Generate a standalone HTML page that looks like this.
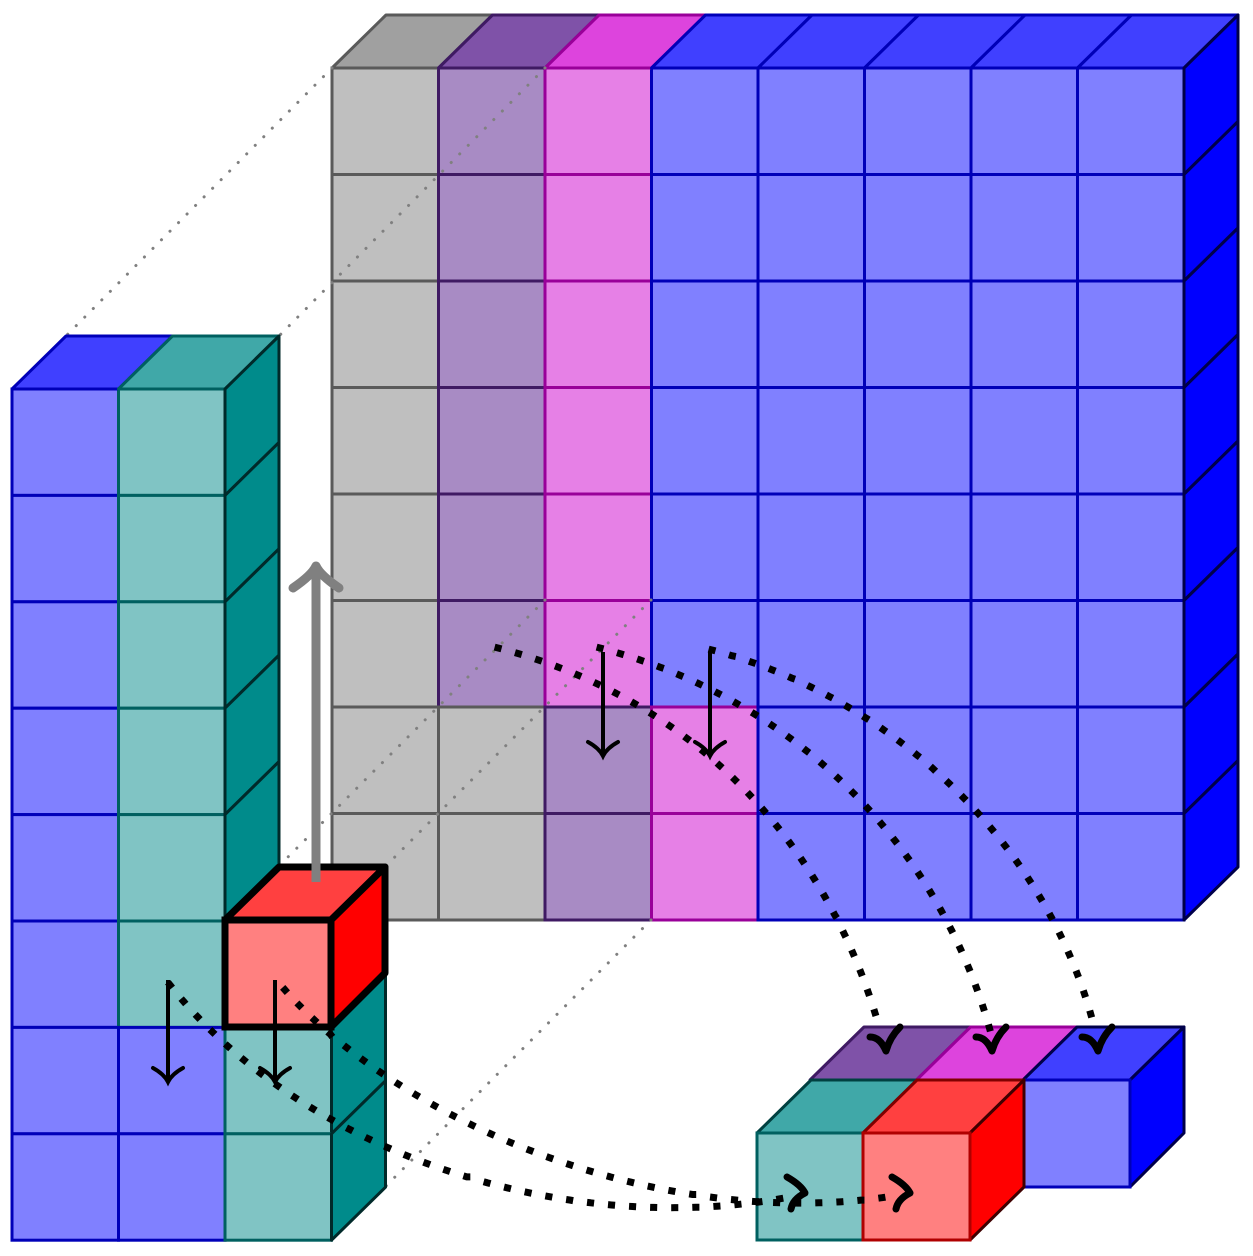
<!DOCTYPE html>
<html><head><meta charset="utf-8"><style>html,body{margin:0;padding:0;background:#fff}svg{display:block}</style></head>
<body>
<svg id="s" width="1253" height="1256" viewBox="0 0 1253 1256" xmlns="http://www.w3.org/2000/svg"></svg>
<script>
const S=document.getElementById('s');let h='';
const C={g:['#bfbfbf','#a0a0a0','#5a5a5a'],p:['#a88bc4','#7f52a8','#3f1a63'],k:['#e680e6','#dd44dd','#990099'],b:['#8080ff','#4040ff','#0000b8'],t:['#80c4c4','#40a8a8','#006060'],r:['#ff8080','#ff4040','#b00000']};
function rect(x,y,w,hh,f,s,sw){h+=`<rect x="${x}" y="${y}" width="${w}" height="${hh}" fill="${f}" stroke="${s}" stroke-width="${sw||3}"/>`;}
function poly(p,f,s,sw){h+=`<polygon points="${p}" fill="${f}" stroke="${s}" stroke-width="${sw||3}" stroke-linejoin="round"/>`;}
const s=106.5,dx=54,dy=53;
// big grid
const cols=[332,438.5,545,651.5,758,864.5,971,1077.5,1184];
function colr(r,c){const n=['g','p','k','b','b','b','b','b'];if(r>=6){return ['g','g','p','k','b','b','b','b'][c];}return n[c];}
for(let r=0;r<8;r++)for(let c=0;c<8;c++){const k=C[colr(r,c)];rect(cols[c],68+r*s,s,s,k[0],k[2]);}
for(let c=0;c<8;c++){const k=C[colr(0,c)],x=cols[c];poly(`${x},68 ${x+dx},15 ${x+dx+s},15 ${x+s},68`,k[1],k[2]);}
for(let r=0;r<8;r++){const y=68+r*s;poly(`1184,${y} 1238,${y-dy} 1238,${y-dy+s} 1184,${y+s}`,'#0000ff','#00004a');}
// gray dotted projection lines
const gd='stroke="#808080" stroke-width="3" stroke-linecap="round" stroke-dasharray="0.1 12" fill="none"';
h+=`<path d="M332,68 L66,336 M545,68 L279,336 M545,600 L225,920 M651,600 L332,920 M651,920 L385,1187" ${gd}/>`;
// left stack
const ls=106.4,ly=389;
for(let r=0;r<8;r++){rect(12,ly+r*ls,106.5,ls,C.b[0],C.b[2]);}
for(let r=0;r<8;r++){const k=r<6?C.t:C.b;rect(118.5,ly+r*ls,106.5,ls,k[0],k[2]);}
poly(`12,389 66,336 172.5,336 118.5,389`,C.b[1],C.b[2]);
poly(`118.5,389 172.5,336 279,336 225,389`,C.t[1],C.t[2]);
for(let r=0;r<6;r++){const y=ly+r*ls;poly(`225,${y} 279,${y-dy} 279,${y-dy+ls} 225,${y+ls}`,'#008b8b','#002a2a');}
for(let r=6;r<8;r++){const y=ly+r*ls;rect(225,y,106.5,ls,C.t[0],C.t[2]);poly(`331.5,${y} 385.5,${y-dy} 385.5,${y-dy+ls} 331.5,${y+ls}`,'#008b8b','#002a2a');}
// red cube
poly(`225,920 279,867 385,867 331,920`,C.r[1],'#000',7);
poly(`331,920 385,867 385,973 331,1027`,'#ff0000','#000',7);
rect(225,920,106,107,C.r[0],'#000',7);
// gray arrow
h+=`<path d="M316,882 L316,572" stroke="#808080" stroke-width="9"/><path d="M293,588 Q312,575 316,566 Q320,575 339,588" stroke="#808080" stroke-width="9" fill="none" stroke-linecap="round" stroke-linejoin="round"/>`;
// small cubes back row
poly(`810,1080 864,1027 970.5,1027 916.5,1080`,C.p[1],C.p[2]);
poly(`916.5,1080 970.5,1027 1077,1027 1023,1080`,C.k[1],C.k[2]);
poly(`1023,1080 1077,1027 1184,1027 1130,1080`,C.b[1],'#00004a');
poly(`1130,1080 1184,1027 1184,1133 1130,1187`,'#0000ff','#00004a');
rect(1023,1080,107,107,C.b[0],C.b[2]);
// front row
poly(`757,1133 811,1080 917,1080 863,1133`,C.t[1],'#004040');
rect(757,1133,106,107,C.t[0],C.t[2]);
poly(`863,1133 917,1080 1024,1080 970,1133`,C.r[1],'#800000');
poly(`970,1133 1024,1080 1024,1187 970,1240`,'#ff0000','#400000');
rect(863,1133,107,107,C.r[0],C.r[2]);
// black dotted curves
const bd='stroke="#000" stroke-width="7" stroke-dasharray="0.1 21" stroke-linecap="square" fill="none"';
h+=`<path d="M498,648 C700,700 830,850 880,1030" ${bd}/>`;
h+=`<path d="M600,648 C800,700 940,850 990,1030" ${bd}/>`;
h+=`<path d="M712,650 C900,700 1050,850 1095,1030" ${bd}/>`;
h+=`<path d="M170,985 C300,1150 560,1240 790,1197" ${bd}/>`;
h+=`<path d="M285,990 C400,1120 660,1235 900,1195" ${bd}/>`;
// down arrows
function da(x,y1,y2){h+=`<path d="M${x},${y1} L${x},${y2}" stroke="#000" stroke-width="4"/><path d="M${x-15},${y2-12} Q${x-4},${y2-6} ${x},${y2+2} Q${x+4},${y2-6} ${x+15},${y2-12}" stroke="#000" stroke-width="4" fill="none" stroke-linecap="round"/>`;}
da(603,652,754);da(710,652,754);da(168,980,1080);da(275,980,1080);
// chevron heads
function ck(x,y){h+=`<path d="M${x-14},${y-8} Q${x-4},${y-8} ${x+2},${y+6} Q${x+6},${y-8} ${x+16},${y-18}" stroke="#000" stroke-width="7" fill="none" stroke-linecap="round" stroke-linejoin="round"/>`;}
ck(884,1045);ck(990,1045);ck(1096,1045);
function rk(x,y){h+=`<path d="M${x-8},${y-16} Q${x+6},${y-8} ${x+10},${y} Q${x-2},${y+6} ${x-4},${y+16}" stroke="#000" stroke-width="7" fill="none" stroke-linecap="round" stroke-linejoin="round"/>`;}
rk(795,1193);rk(900,1193);
S.innerHTML=h;
</script>
</body></html>
